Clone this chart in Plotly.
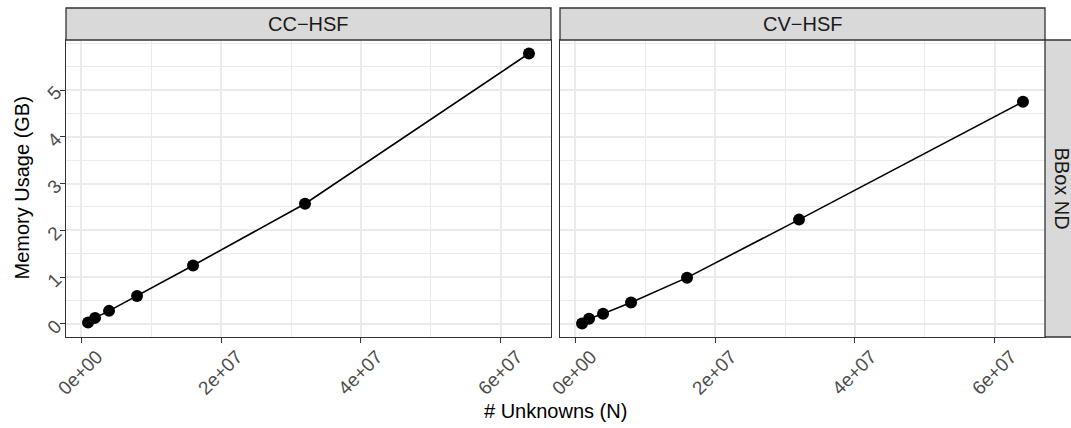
import plotly.graph_objects as go

# ---- data ----
unknowns = [1e6, 2e6, 4e6, 8e6, 1.6e7, 3.2e7, 6.4e7]
cc_hsf_mem = [0.03, 0.13, 0.28, 0.60, 1.25, 2.57, 5.78]
cv_hsf_mem = [0.01, 0.11, 0.22, 0.46, 0.99, 2.23, 4.75]
panel_titles = ["CC\u2212HSF", "CV\u2212HSF"]
row_title = "BBox ND"
x_tick_vals = [0, 2e7, 4e7, 6e7]
x_tick_labels = ["0e+00", "2e+07", "4e+07", "6e+07"]
x_minor_vals = [1e7, 3e7, 5e7]
y_tick_vals = [0, 1, 2, 3, 4, 5]
y_tick_labels = ["0", "1", "2", "3", "4", "5"]
y_minor_vals = [0.5, 1.5, 2.5, 3.5, 4.5, 5.5, 6.0]
x_title = "# Unknowns (N)"
y_title = "Memory Usage (GB)"

W, H = 1071, 428
ML, MR, MT, MB = 66, 26, 40, 91
PW = W - ML - MR
PH = H - MT - MB

FONT = "Liberation Sans, Arial, sans-serif"
DARK = "#333333"
GRID = "#EBEBEB"

def expand(vals_list, frac=0.05):
    lo = min(min(v) for v in vals_list)
    hi = max(max(v) for v in vals_list)
    d = (hi - lo) * frac
    return [lo - d, hi + d]

xr = expand([unknowns])
yr = expand([cc_hsf_mem, cv_hsf_mem])

fig = go.Figure()
series = [cc_hsf_mem, cv_hsf_mem]
for i, ys in enumerate(series):
    fig.add_trace(go.Scatter(
        x=unknowns, y=ys, mode="lines+markers",
        xaxis="x" if i == 0 else "x2", yaxis="y" if i == 0 else "y2",
        line=dict(color="black", width=1.6),
        marker=dict(color="black", size=12),
        showlegend=False, hoverinfo="skip",
    ))

gap = 9 / PW
d1 = [0, (1 - gap) / 2]
d2 = [(1 + gap) / 2, 1]

def xaxis(domain, anchor):
    return dict(
        domain=domain, anchor=anchor, range=xr,
        tickmode="array", tickvals=x_tick_vals, ticktext=x_tick_labels,
        tickangle=-45, ticks="outside", ticklen=5, tickwidth=1.3, tickcolor=DARK,
        tickfont=dict(family=FONT, size=19, color="#4D4D4D"),
        ticklabelshift=16, ticklabelstandoff=-5,
        showgrid=True, gridcolor=GRID, gridwidth=2,
        minor=dict(tickmode="array", tickvals=x_minor_vals, showgrid=True,
                   gridcolor=GRID, gridwidth=1),
        showline=True, linecolor=DARK, linewidth=1.3, mirror=True,
        zeroline=False, automargin=False,
    )

def yaxis(anchor, labels):
    return dict(
        domain=[0, 1], anchor=anchor, range=yr,
        tickmode="array", tickvals=y_tick_vals, ticktext=y_tick_labels,
        tickangle=-45,
        ticks="outside" if labels else "", ticklen=5, tickwidth=1.3, tickcolor=DARK,
        showticklabels=labels,
        tickfont=dict(family=FONT, size=19, color="#4D4D4D"),
        showgrid=True, gridcolor=GRID, gridwidth=2,
        minor=dict(tickmode="array", tickvals=y_minor_vals, showgrid=True,
                   gridcolor=GRID, gridwidth=1),
        showline=True, linecolor=DARK, linewidth=1.3, mirror=True,
        zeroline=False, automargin=False,
    )

strip_h = 32 / PH
strip_w = 32 / PW
shapes = []
annotations = []
for dom, title in zip([d1, d2], panel_titles):
    shapes.append(dict(type="rect", xref="paper", yref="paper",
                       x0=dom[0], x1=dom[1], y0=1, y1=1 + strip_h,
                       fillcolor="#D9D9D9", line=dict(color=DARK, width=1.3), layer="above"))
    annotations.append(dict(text=title, xref="paper", yref="paper",
                            x=(dom[0] + dom[1]) / 2, y=1 + strip_h / 2,
                            xanchor="center", yanchor="middle", showarrow=False,
                            font=dict(family=FONT, size=20, color="#1A1A1A")))
shapes.append(dict(type="rect", xref="paper", yref="paper",
                   x0=1, x1=1 + strip_w, y0=0, y1=1,
                   fillcolor="#D9D9D9", line=dict(color=DARK, width=1.3), layer="above"))
annotations.append(dict(text=row_title, xref="paper", yref="paper",
                        x=1 + 17 / PW, y=0.5, xanchor="center", yanchor="middle",
                        textangle=90, showarrow=False,
                        font=dict(family=FONT, size=20, color="#1A1A1A")))
annotations.append(dict(text=x_title, xref="paper", yref="paper",
                        x=0.5, y=-(411 - (H - MB)) / PH, xanchor="center", yanchor="middle",
                        showarrow=False, font=dict(family=FONT, size=20, color="black")))
annotations.append(dict(text=y_title, xref="paper", yref="paper",
                        x=-(ML - 21) / PW, y=0.5, xanchor="center", yanchor="middle",
                        textangle=-90, showarrow=False,
                        font=dict(family=FONT, size=20, color="black")))

fig.update_layout(
    width=W, height=H,
    margin=dict(l=ML, r=MR, t=MT, b=MB),
    paper_bgcolor="white", plot_bgcolor="white",
    xaxis=xaxis(d1, "y"), xaxis2=xaxis(d2, "y2"),
    yaxis=yaxis("x", True), yaxis2=yaxis("x2", False),
    shapes=shapes, annotations=annotations,
    font=dict(family=FONT),
    hovermode=False,
)

fig.write_html(
    "out.html",
    config={"displayModeBar": False},
    post_script="document.body.style.margin='0';document.body.style.padding='0';document.body.style.overflow='hidden';",
)
